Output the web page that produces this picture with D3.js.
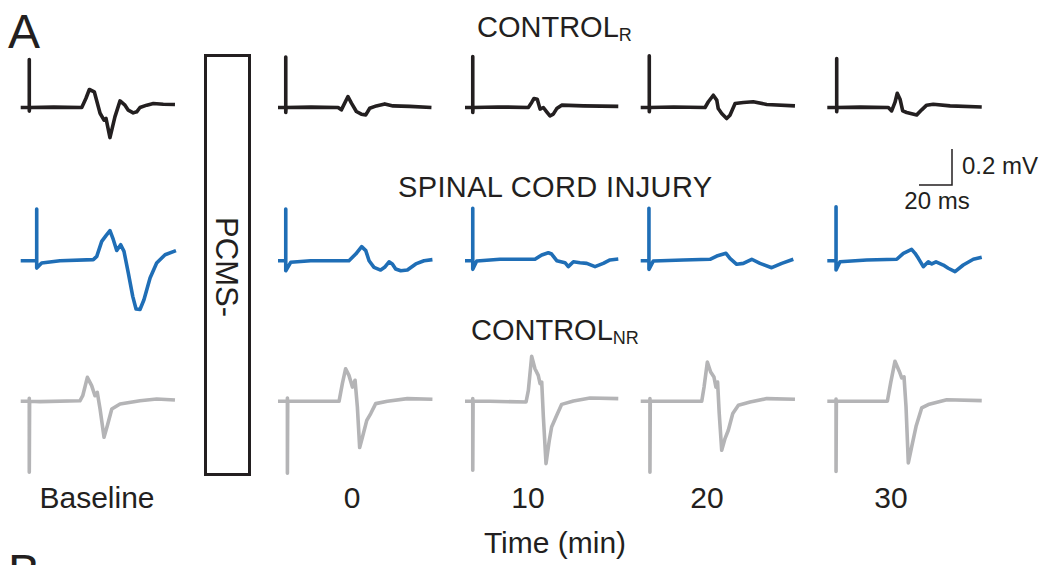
<!DOCTYPE html>
<html><head><meta charset="utf-8">
<script src="https://cdn.jsdelivr.net/npm/d3@7"></script>
<style>body{margin:0;background:#fff}svg{display:block}text{font-family:"Liberation Sans",Arial,sans-serif;fill:#231f20}</style>
</head><body><svg id="c" width="1044" height="565"></svg>
<script>
// ---------- data ----------
const timeLabels = ["Baseline", "0", "10", "20", "30"];
const groupNames = ["CONTROL", "SPINAL CORD INJURY", "CONTROL"];
const groupSubs = ["R", "", "NR"];
const seriesColors = ["#231f20", "#1f6eb6", "#b4b4b6"];
const scaleBarMs = 20, scaleBarMv = 0.2;

// traces: [time ms, potential mV]
const ctrlR_baseline = [[0,0],[5.2,0],[5.2,0.267],[5.2,-0.02],[5.4,0],[20,0.002],[37,0],[39.5,0.05],[41.6,0.10],[44.6,0.087],[48.1,-0.032],[50.5,-0.07],[51.7,-0.061],[54.1,-0.167],[57.1,-0.052],[60.2,0.037],[63.2,0.013],[65.2,-0.015],[68.2,-0.03],[70.3,-0.024],[72.3,0],[76.4,0.013],[80.4,0.022],[86.4,0.018],[93.5,0.017]];
const ctrlR_0 = [[0,0],[4.7,0],[4.7,0.28],[4.7,-0.028],[4.9,0],[20,0.002],[36.4,0],[38.4,-0.013],[42.4,0.061],[44.5,0.024],[47.5,-0.022],[50.5,-0.037],[53.2,-0.041],[55.6,-0.004],[59.6,0.009],[64.7,0.02],[69.7,0.009],[79.8,0.006],[93,0]];
const ctrlR_10 = [[0,0],[4.7,0],[4.7,0.283],[4.7,-0.028],[4.9,0],[20,0.003],[38.4,0],[40.4,0.028],[41.8,0.05],[43.8,0.046],[45.5,-0.009],[47.5,0],[49.5,-0.024],[51.5,-0.047],[53.5,-0.037],[55.6,-0.006],[58.6,0.013],[71.7,0.009],[92.9,0.006]];
const ctrlR_20 = [[0,0],[5.2,0],[5.2,0.287],[5.2,-0.024],[5.4,0],[20,0.003],[39,0],[41,0.032],[44,0.068],[46.1,0.041],[47,-0.006],[49.1,-0.033],[52.1,-0.061],[54.1,-0.043],[57.2,0.022],[62.2,0.028],[68.2,0.032],[76.4,0.017],[93.5,0.009]];
const ctrlR_30 = [[0,0],[5.7,0],[5.7,0.272],[5.7,-0.024],[5.9,0],[20,0.002],[37,0],[39,-0.019],[41,0.028],[42.4,0.079],[44.1,0.046],[45.7,-0.019],[48.1,-0.028],[54.2,-0.041],[57.2,-0.013],[60.2,0.013],[64.2,0.018],[74.4,0.009],[93.6,0.003]];

const sci_baseline = [[0,0],[9.7,0],[9.7,0.287],[9.7,-0.041],[12.7,-0.013],[23.8,0],[44,0.006],[46.1,0.024],[49.1,0.107],[51.7,0.139],[54.1,0.167],[56.1,0.118],[58.2,0.057],[60.6,0.089],[62.6,0.052],[65.2,-0.068],[67.9,-0.198],[69.9,-0.268],[72.3,-0.271],[74.7,-0.217],[78.4,-0.096],[82.4,-0.013],[87.5,0.033],[94.1,0.056]];
const sci_0 = [[0,0],[4.7,0],[4.7,0.287],[4.7,-0.056],[7.7,-0.009],[19.8,0],[43,0],[47.1,0.037],[50.7,0.078],[53.2,0.056],[55.2,0],[58.2,-0.037],[62.2,-0.052],[64.6,-0.037],[67.3,-0.006],[69.3,-0.018],[71.3,-0.046],[74.4,-0.056],[78.4,-0.052],[83.5,-0.018],[88.5,0],[93.6,0.006]];
const sci_10 = [[0,0],[4.7,0],[4.7,0.291],[4.7,-0.048],[7.1,-0.002],[21.2,0.008],[42.4,0.008],[46.5,0.032],[50.5,0.044],[52.5,0.037],[55.6,0],[60.6,-0.011],[62.6,-0.033],[65.7,-0.006],[69.7,-0.011],[73.8,-0.015],[78.8,-0.033],[83.8,-0.015],[87.9,0.004],[92.9,0.009]];
const sci_20 = [[0,0],[5,0],[5,0.291],[5,-0.048],[7.6,-0.002],[25.8,0.004],[42,0.008],[46.1,0.026],[51.7,0.041],[54.1,0.013],[58.2,-0.02],[62.2,-0.015],[67.3,0.008],[72.3,-0.015],[79.4,-0.039],[85.5,-0.015],[92.5,0.008]];
const sci_30 = [[0,0],[5.3,0],[5.3,0.3],[5.3,-0.052],[7.7,-0.006],[23.9,0.004],[42.1,0.008],[46.1,0.041],[51.1,0.063],[53.2,0.041],[55.2,0.013],[58.2,-0.033],[61.2,-0.006],[63.3,-0.018],[65.9,-0.006],[70.3,-0.024],[73.3,-0.042],[77.4,-0.061],[82.4,-0.024],[88.5,0.008],[93.6,0.019]];

const ctrlNR_baseline = [[0,0],[5.2,0],[5.2,0.017],[5.2,-0.394],[5.4,0],[11.7,-0.002],[35.9,0.003],[37.6,0.031],[40.4,0.133],[43,0.087],[45,0.031],[46.4,0.05],[48.1,-0.043],[50.5,-0.2],[52.5,-0.136],[55.2,-0.043],[60.2,-0.015],[72.3,0.003],[82.4,0.013],[93.5,0.007]];
const ctrlNR_0 = [[0,0],[5.7,0],[5.7,0.018],[5.7,-0.4],[5.9,0],[13.8,0],[37,0],[39,0.098],[41,0.181],[43,0.144],[45.1,0.079],[46.7,0.117],[48.1,-0.031],[49.5,-0.257],[51.2,-0.198],[53.8,-0.106],[56.2,-0.068],[59.2,-0.013],[66.3,0],[78.4,0.015],[93.6,0.011]];
const ctrlNR_10 = [[0,0],[4.7,0],[4.7,0.015],[4.7,-0.383],[4.9,0],[15.2,0],[37,-0.004],[38.4,0.061],[40.4,0.25],[42.4,0.181],[44.4,0.144],[45.5,0.098],[46.5,0.107],[47.5,-0.087],[49.1,-0.346],[51.1,-0.217],[52.5,-0.143],[55.6,-0.078],[58.6,-0.017],[65.7,0.002],[75.8,0.018],[92.9,0.015]];
const ctrlNR_20 = [[0,0],[5.6,0],[5.6,0.015],[5.6,-0.394],[5.8,0],[15.8,0],[37,0],[38.4,0.079],[40.4,0.218],[42.4,0.163],[44.4,0.135],[45.6,0.079],[46.6,0.107],[47.6,-0.068],[49.1,-0.272],[51.1,-0.207],[53.1,-0.161],[55.8,-0.068],[59.2,-0.022],[66.3,-0.004],[76.4,0.015],[93.5,0.011]];
const ctrlNR_30 = [[0,0],[5.3,0],[5.3,0.013],[5.3,-0.39],[5.5,0],[13.8,0],[36.4,0],[38.4,0.102],[41,0.222],[43.6,0.167],[45.1,0.13],[46.5,0.136],[47.7,-0.028],[49.1,-0.342],[51.2,-0.25],[53.8,-0.139],[57.2,-0.037],[61.2,-0.018],[72.4,0.009],[93.6,0.004]];

const traces = [
  [ctrlR_baseline, ctrlR_0, ctrlR_10, ctrlR_20, ctrlR_30],
  [sci_baseline, sci_0, sci_10, sci_20, sci_30],
  [ctrlNR_baseline, ctrlNR_0, ctrlNR_10, ctrlNR_20, ctrlNR_30]
];

// ---------- layout ----------
const colLeft = [20.7, 278, 465, 640.7, 827.3];
const rowBase = [107.5, 260.7, 401.3];
const pxPerMs = 1.65, pxPerMv = 180;
const svg = d3.select("#c");

const xScales = colLeft.map(l => d3.scaleLinear().domain([0, 100]).range([l, l + 100 * pxPerMs]));
const yScales = rowBase.map(b => d3.scaleLinear().domain([-1, 1]).range([b + pxPerMv, b - pxPerMv]));

traces.forEach((row, r) => {
  row.forEach((pts, c) => {
    const line = d3.line().x(d => xScales[c](d[0])).y(d => yScales[r](d[1]));
    svg.append("path").attr("d", line(pts)).attr("fill", "none")
      .attr("stroke", seriesColors[r]).attr("stroke-width", 3.6)
      .attr("stroke-linejoin", "round").attr("stroke-linecap", "butt");
  });
});

// titles
const titleX = [477, 398, 471];
const titleY = [37, 197, 340];
groupNames.forEach((g, i) => {
  const t = svg.append("text").attr("x", titleX[i]).attr("y", titleY[i])
    .attr("font-size", 29).attr("textLength", i === 1 ? 314 : null);
  t.append("tspan").text(g);
  if (groupSubs[i]) t.append("tspan").attr("font-size", 18).attr("dy", 4).text(groupSubs[i]);
});

// panel letters (B is only partly visible at the bottom edge, as in the source figure)
svg.append("text").attr("x", 8).attr("y", 48).attr("font-size", 48).text("A");
svg.append("text").attr("x", 8).attr("y", 588).attr("font-size", 48).text("B");

// PCMS box
svg.append("rect").attr("x", 205.5).attr("y", 55.5).attr("width", 44).attr("height", 419)
  .attr("fill", "none").attr("stroke", "#231f20").attr("stroke-width", 3);
svg.append("text").attr("transform", "translate(216,267) rotate(90)")
  .attr("text-anchor", "middle").attr("font-size", 31).text("PCMS-");

// time labels
const labelX = [97, 352, 528, 707, 891];
timeLabels.forEach((t, i) => {
  svg.append("text").attr("x", labelX[i]).attr("y", 508).attr("text-anchor", "middle")
    .attr("font-size", 30).text(t);
});
svg.append("text").attr("x", 555).attr("y", 553).attr("text-anchor", "middle")
  .attr("font-size", 30).text("Time (min)");

// scale bar (drawn with the same pixel-per-unit scales as traces)
const sbX0 = 919, sbY0 = 185;
const sx = d3.scaleLinear().domain([0, 100]).range([sbX0, sbX0 + 100 * pxPerMs]);
const sy = d3.scaleLinear().domain([0, 1]).range([sbY0, sbY0 - pxPerMv]);
svg.append("path").attr("d", d3.line()([[sx(0), sy(0)], [sx(scaleBarMs), sy(0)], [sx(scaleBarMs), sy(scaleBarMv)]]))
  .attr("fill", "none").attr("stroke", "#231f20").attr("stroke-width", 1.5);
svg.append("text").attr("x", 962).attr("y", 174).attr("font-size", 24).text(scaleBarMv + " mV");
svg.append("text").attr("x", 937).attr("y", 209).attr("text-anchor", "middle").attr("font-size", 24).text(scaleBarMs + " ms");
</script></body></html>
